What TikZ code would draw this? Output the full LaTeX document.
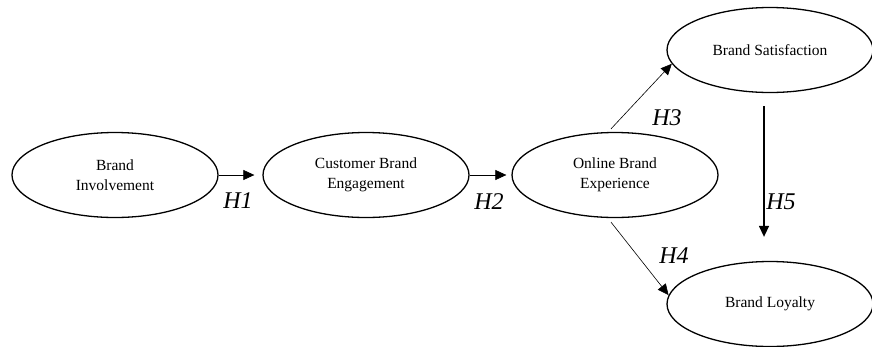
\documentclass[tikz,border=0pt]{standalone}
\usepackage{fontspec}
\setmainfont{Liberation Serif}
\usetikzlibrary{shapes.geometric,arrows.meta}
\begin{document}
\begin{tikzpicture}[x=1pt,y=-1pt,
		construct/.style={draw,ellipse,line width=1.3pt,minimum width=206pt,minimum height=85pt,align=center,font=\fontsize{15.5}{20}\selectfont},
		path/.style={-{Triangle[length=11pt,width=10pt]},line width=0.6pt},
		hyp/.style={font=\fontsize{24}{24}\selectfont\itshape}]
			\useasboundingbox (0,0) rectangle (872,346);
			\node[construct] (bi) at (115,175) {Brand\\Involvement};
			\node[construct] (cbe) at (366,175) {Customer Brand\\Engagement};
			\node[construct] (obe) at (615,175) {Online Brand\\Experience};
			\node[construct] (bs) at (770,50) {Brand Satisfaction};
			\node[construct] (bl) at (770,304) {Brand Loyalty};
			\draw[path] (bi.east) -- ([xshift=-8pt]cbe.west);
			\draw[path] (cbe.east) -- ([xshift=-5pt]obe.west);
			\draw[path] ([xshift=-4pt,yshift=3pt]obe.north) -- (bs.188);
			\draw[path] ([xshift=-4pt,yshift=-4pt]obe.south) -- (bl.175);
			\draw[path,line width=1.4pt] ([xshift=-6pt,yshift=-13pt]bs.south) -- ([xshift=-6pt,yshift=24pt]bl.north);
			\node[hyp] (h1) at (238,201) {H1};
			\node[hyp] (h2) at (489,202) {H2};
			\node[hyp] (h3) at (667,118) {H3};
			\node[hyp] (h4) at (674,256) {H4};
			\node[hyp] (h5) at (781,202) {H5};
		\end{tikzpicture}
\end{document}
